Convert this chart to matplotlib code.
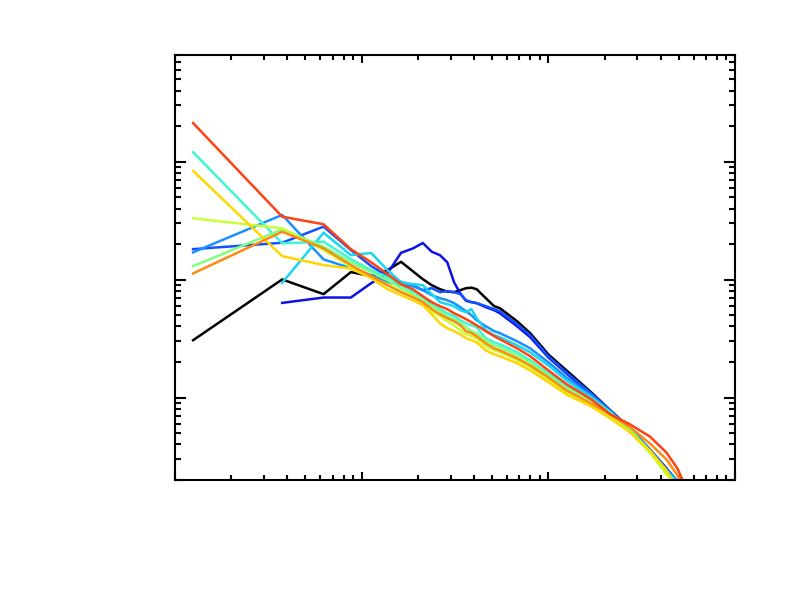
import numpy as np
import matplotlib
matplotlib.use("Agg")
import matplotlib.pyplot as plt
from matplotlib.ticker import LogLocator, NullFormatter

# wavenumber bins (shared by all curves)
k = [1.25, 3.75, 6.25, 8.75, 11.25, 13.75, 16.25, 18.75, 21.25, 23.75,
     26.25, 28.75, 31.25, 33.75, 36.25, 38.75, 41.25, 46.25, 51.25,
     55, 68, 80, 100, 125, 170, 215, 275, 350, 430]

nan = np.nan

black = [0.0306, 0.1002, 0.0752, 0.1156, 0.1069, 0.1202, 0.1413, 0.118, 0.1008, 0.0896,
         0.0829, 0.079, 0.0782, 0.0813, 0.0845, 0.0853, 0.0829, 0.0695, 0.0595,
         0.0572, 0.0443, 0.0351, 0.0232, 0.0170, 0.01105, 0.00777, 0.00546, 0.00362, 0.00250]
dkblue = [nan, 0.0634, 0.0704, 0.0704, 0.0932, 0.1127, 0.1686, 0.183, 0.204, 0.172,
          0.161, 0.140, 0.0950, 0.0762, 0.066, 0.0643, 0.0631, 0.0583, 0.0550,
          0.0518, 0.0402, 0.0324, 0.0219, 0.0160, 0.01062, 0.00762, 0.00536, 0.00355, 0.00245]
blue = [0.181, 0.205, 0.281, 0.178, 0.130, 0.1069, 0.0954, 0.0896, 0.0813, 0.0845,
        0.0782, 0.0797, 0.0782, 0.0752, 0.0668, 0.0643, 0.0631, 0.0595, 0.0561,
        0.0539, 0.0418, 0.0337, 0.0224, 0.0163, 0.01083, 0.00777, 0.00546, 0.00362, 0.00250]
dodger = [0.170, 0.353, 0.148, 0.125, 0.109, 0.095, 0.0896, 0.0879, 0.0813, 0.0737,
          0.0695, 0.0668, 0.0631, 0.0583, 0.0539, 0.0498, 0.0452, 0.0402, 0.0365,
          0.0351, 0.0300, 0.0261, 0.0199, 0.0148, 0.01042, 0.00762, 0.00536, 0.00355, 0.00245]
cyan = [nan, 0.0937, 0.249, 0.161, 0.168, 0.1202, 0.0950, 0.0914, 0.0896, 0.0752,
        0.0643, 0.0618, 0.0595, 0.0550, 0.0529, 0.0561, 0.0470, 0.0372, 0.0337,
        0.0324, 0.0277, 0.0242, 0.0187, 0.0140, 0.01002, 0.00747, 0.00525, 0.00348, 0.00236]
turq = [1.20, 0.203, 0.209, 0.149, 0.1202, 0.1048, 0.0896, 0.0797, 0.0709, 0.0618,
        0.0561, 0.0518, 0.0489, 0.0452, 0.0426, 0.0410, 0.0394, 0.0318, 0.0294,
        0.0283, 0.0242, 0.0207, 0.0160, 0.0125, 0.00983, 0.00747, 0.00536, 0.00355, 0.00236]
ltgreen = [0.130, 0.266, 0.190, 0.140, 0.1156, 0.0988, 0.0845, 0.0752, 0.0668, 0.0595,
           0.0539, 0.0489, 0.0461, 0.0426, 0.0394, 0.0365, 0.0351, 0.0306, 0.0277,
           0.0267, 0.0228, 0.0199, 0.0154, 0.0120, 0.00945, 0.00719, 0.00525, 0.00348, 0.00231]
ygreen = [0.330, 0.272, 0.178, 0.128, 0.1048, 0.0914, 0.0797, 0.0723, 0.0631, 0.0539,
          0.0489, 0.0443, 0.0410, 0.0372, 0.0344, 0.0331, 0.0318, 0.0272, 0.0251,
          0.0242, 0.0207, 0.0180, 0.0143, 0.01105, 0.00873, 0.00691, 0.00505, 0.00341, 0.00222]
gold = [0.834, 0.158, 0.1325, 0.124, 0.1028, 0.0829, 0.0737, 0.0668, 0.0606, 0.0508,
        0.0426, 0.0387, 0.0365, 0.0344, 0.0318, 0.0306, 0.0294, 0.0251, 0.0232,
        0.0224, 0.0195, 0.0170, 0.0135, 0.01062, 0.0084, 0.00665, 0.00505, 0.00355, 0.0024]
orange = [0.1127, 0.254, 0.184, 0.1325, 0.1069, 0.0896, 0.0782, 0.0709, 0.0643, 0.0561,
          0.0508, 0.0470, 0.0443, 0.0410, 0.0365, 0.0351, 0.0331, 0.0288, 0.0261,
          0.0251, 0.0215, 0.0187, 0.0148, 0.01149, 0.00891, 0.00719, 0.00557, 0.00408, 0.00298]
red = [2.12, 0.341, 0.294, 0.181, 0.140, 0.1112, 0.0914, 0.0829, 0.0723, 0.0643,
       0.0595, 0.0561, 0.0518, 0.0489, 0.0461, 0.0435, 0.0410, 0.0365, 0.0331,
       0.0312, 0.0261, 0.0224, 0.0170, 0.0130, 0.00964, 0.0072, 0.0059, 0.00467, 0.00341]

# last points where each curve runs out the bottom of the frame
tail_k = {'black': [492], 'dkblue': [498], 'blue': [498], 'dodger': [504], 'cyan': [492],
          'turq': [480], 'ltgreen': [476], 'ygreen': [472], 'gold': [468],
          'orange': [523], 'red': [492, 531]}
tail_v = {'black': [0.0019], 'dkblue': [0.0019], 'blue': [0.0019], 'dodger': [0.0019],
          'cyan': [0.0019], 'turq': [0.0019], 'ltgreen': [0.0019], 'ygreen': [0.0019],
          'gold': [0.0019], 'orange': [0.0019], 'red': [0.0025, 0.0019]}

curves = [('black', black, 'black'), ('dkblue', dkblue, '#0c12e6'),
          ('blue', blue, '#1450ff'), ('dodger', dodger, '#1892ff'),
          ('cyan', cyan, '#18d6f6'), ('turq', turq, '#3ef6d2'),
          ('ltgreen', ltgreen, '#80ff80'), ('ygreen', ygreen, '#c6ff36'),
          ('gold', gold, '#ffd600'), ('orange', orange, '#ff8a12'),
          ('red', red, '#ff4212')]

fig = plt.figure(figsize=(7.86, 5.91), dpi=100)
ax = fig.add_axes([175 / 786, 1 - 480 / 591, 560 / 786, 425 / 591])

for name, vals, col in curves:
    xs = np.array(k + tail_k[name], dtype=float)
    ys = np.array(vals + tail_v[name], dtype=float)
    ok = ~np.isnan(ys)
    ax.plot(xs[ok], ys[ok], color=col, lw=1.8)

ax.set_xscale('log')
ax.set_yscale('log')
ax.set_xlim(1, 1000)
ax.set_ylim(0.002, 8)

for s in ax.spines.values():
    s.set_linewidth(1.5)
ax.xaxis.set_major_locator(LogLocator(base=10, numticks=10))
ax.yaxis.set_major_locator(LogLocator(base=10, numticks=10))
ax.xaxis.set_minor_locator(LogLocator(base=10, subs=np.arange(2, 10), numticks=20))
ax.yaxis.set_minor_locator(LogLocator(base=10, subs=np.arange(2, 10), numticks=20))
ax.tick_params(which='both', direction='in', top=True, right=True, width=1.5,
               labelbottom=False, labelleft=False)
ax.tick_params(axis='x', which='major', length=6)
ax.tick_params(axis='x', which='minor', length=3.5)
ax.tick_params(axis='y', which='major', length=8)
ax.tick_params(axis='y', which='minor', length=4.5)
ax.xaxis.set_minor_formatter(NullFormatter())
ax.yaxis.set_minor_formatter(NullFormatter())

fig.savefig('out.png', dpi=100)
